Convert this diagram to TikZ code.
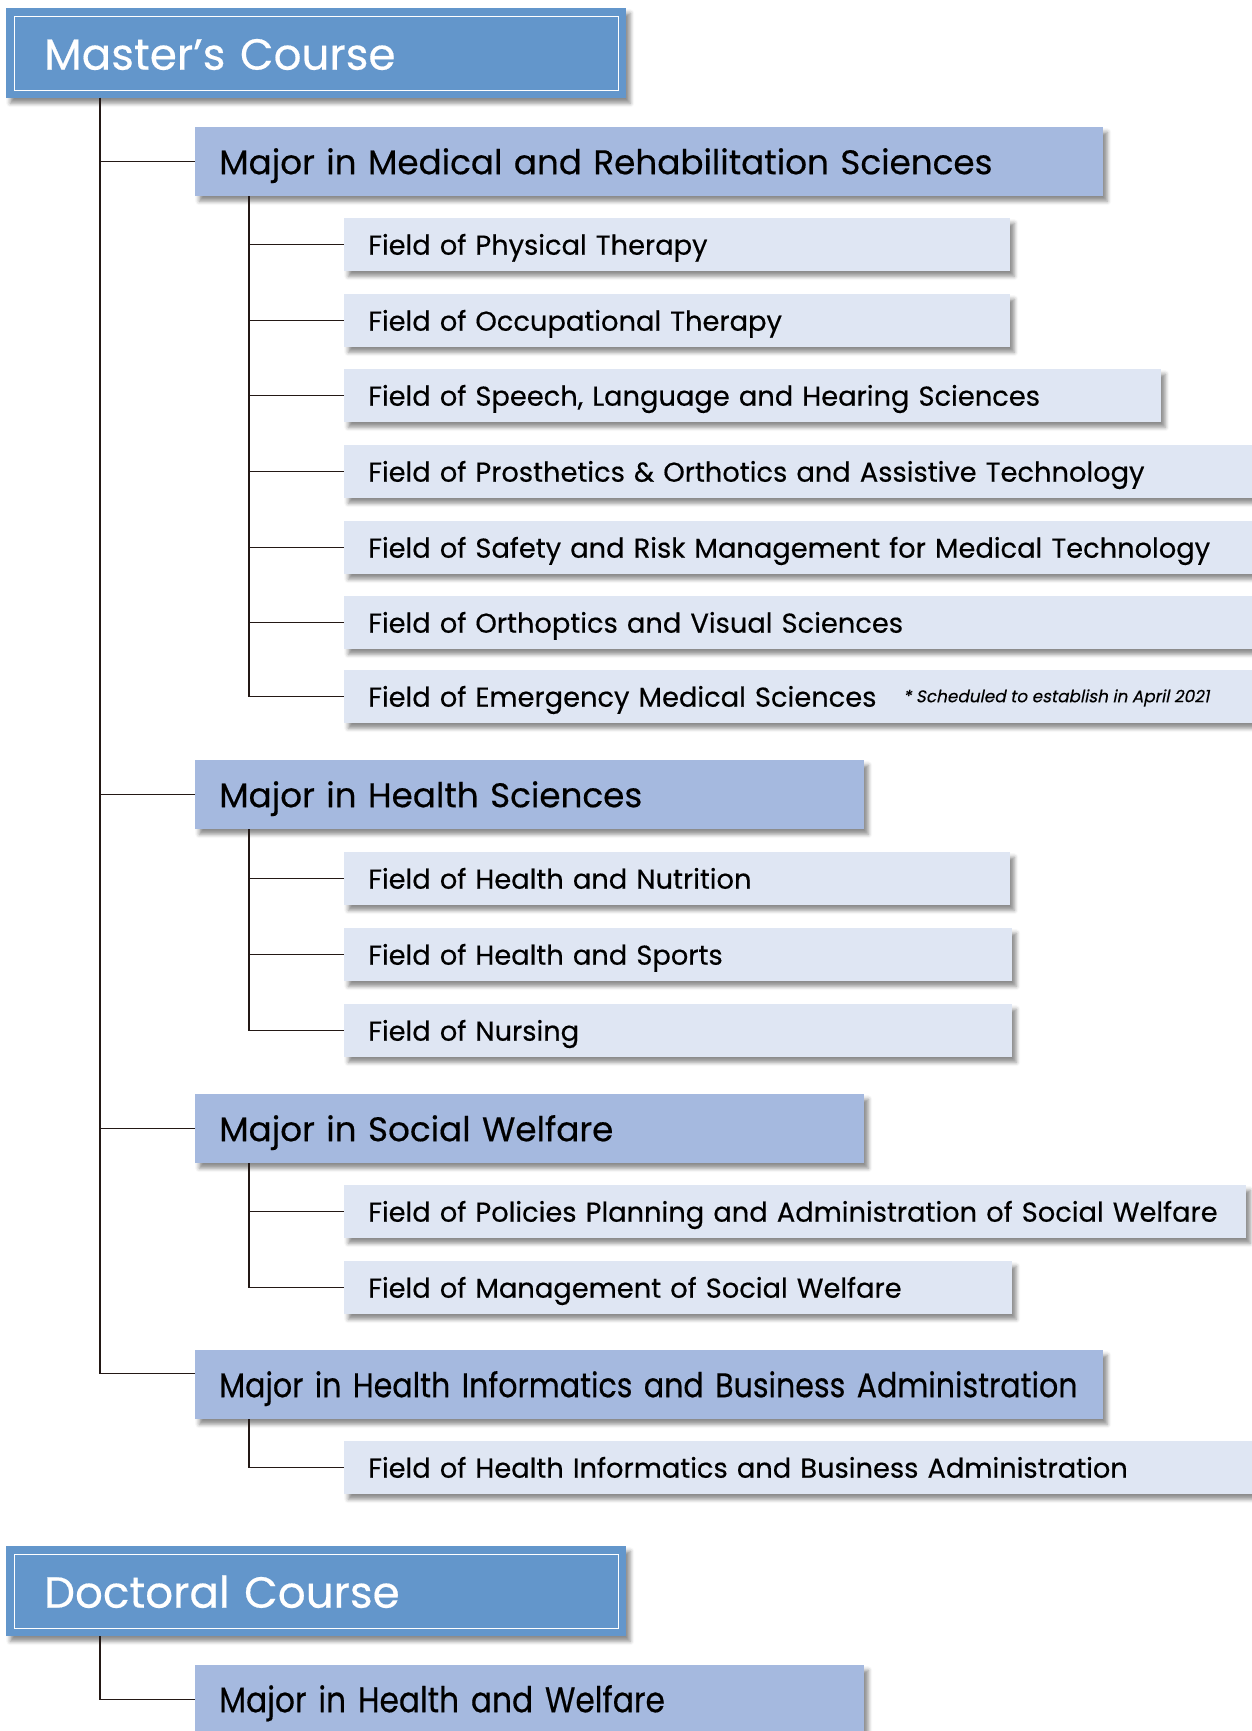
\documentclass[tikz,border=0pt]{standalone}
\usepackage{fontspec}
\setmainfont{Poppins}[FakeBold=0.4]
\newfontfamily\notefont{Poppins}[FakeSlant=0.2,FakeBold=0.3]
\newfontfamily\narrowfont{Poppins}[FakeStretch=0.88,FakeBold=0.4]
\usetikzlibrary{shadows.blur}
\definecolor{coursecol}{HTML}{6396CB}
\definecolor{majorcol}{HTML}{A5B9DF}
\definecolor{fieldcol}{HTML}{DFE6F3}
\definecolor{linecol}{HTML}{231815}

\begin{document}
\begin{tikzpicture}[x=1pt,y=-1pt]
\tikzstyle{shade}=[blur shadow={shadow xshift=4pt,shadow yshift=-5pt,shadow blur radius=4pt,shadow opacity=45}]
\tikzstyle{course}=[rectangle,shade,fill=coursecol,anchor=north west,text=white,minimum height=90pt,inner xsep=38pt,text width=544pt,align=left,text height=33pt,text depth=0pt,font=\fontsize{43.6}{50}\selectfont]
\tikzstyle{major}=[rectangle,shade,fill=majorcol,anchor=north west,minimum height=69pt,inner xsep=24pt,text width=#1,align=left,text height=25pt,text depth=0pt,font=\fontsize{34.2}{38}\selectfont]
\tikzstyle{field}=[rectangle,shade,fill=fieldcol,anchor=north west,minimum height=53pt,inner xsep=24pt,text width=#1,align=left,text height=20pt,text depth=0pt,font=\fontsize{27.3}{30}\selectfont]
\tikzstyle{link}=[draw=linecol,line width=1.3pt]
\useasboundingbox (0,0) rectangle (1252,1731);

% master's course
\node [course] (master) at (6,8) {Master’s Course};
\draw [white,line width=0.8pt] ([shift={(8pt,8pt)}]master.south west) rectangle ([shift={(-8pt,-8pt)}]master.north east);
\coordinate (mtrunk) at (100,98);

\node [major=860pt] (maj1) at (195,127) {Major in Medical and Rehabilitation Sciences};
\node [field=618pt] (f1) at (344,218) {Field of Physical Therapy};
\node [field=618pt] (f2) at (344,294) {Field of Occupational Therapy};
\node [field=769pt] (f3) at (344,369) {Field of Speech, Language and Hearing Sciences};
\node [field=872pt] (f4) at (344,445) {\mbox{Field of Prosthetics \& Orthotics and Assistive Technology}};
\node [field=872pt] (f5) at (344,521) {\mbox{Field of Safety and Risk Management for Medical Technology}};
\node [field=872pt] (f6) at (344,596) {Field of Orthoptics and Visual Sciences};
\node [field=872pt] (f7) at (344,670) {Field of Emergency Medical Sciences};
\node [anchor=west,inner sep=0pt,font=\notefont\fontsize{16.9}{20}\selectfont] (note) at (903,698) {* Scheduled to establish in April 2021};

\node [major=621pt] (maj2) at (195,760) {Major in Health Sciences};
\node [field=618pt] (h1) at (344,852) {Field of Health and Nutrition};
\node [field=620pt] (h2) at (344,928) {Field of Health and Sports};
\node [field=620pt] (h3) at (344,1004) {Field of Nursing};

\node [major=621pt] (maj3) at (195,1094) {Major in Social Welfare};
\node [field=854pt] (s1) at (344,1185) {\mbox{Field of Policies Planning and Administration of Social Welfare}};
\node [field=620pt] (s2) at (344,1261) {Field of Management of Social Welfare};

\node [major=860pt,font=\narrowfont\fontsize{34.2}{38}\selectfont] (maj4) at (195,1350) {\mbox{Major in Health Informatics and Business Administration}};
\node [field=872pt] (i1) at (344,1441) {Field of Health Informatics and Business Administration};

\draw [link] (mtrunk) |- (maj1.west);
\draw [link] (mtrunk) |- (maj2.west);
\draw [link] (mtrunk) |- (maj3.west);
\draw [link] (mtrunk) |- ([yshift=11pt]maj4.west);
\foreach \f in {f1,f2,f3,f4,f5,f6,f7}
  \draw [link] ([xshift=54pt]maj1.south west) |- (\f.west);
\foreach \f in {h1,h2,h3}
  \draw [link] ([xshift=54pt]maj2.south west) |- (\f.west);
\foreach \f in {s1,s2}
  \draw [link] ([xshift=54pt]maj3.south west) |- (\f.west);
\draw [link] ([xshift=54pt]maj4.south west) |- (i1.west);

% doctoral course
\node [course] (doctor) at (6,1546) {Doctoral Course};
\draw [white,line width=0.8pt] ([shift={(8pt,8pt)}]doctor.south west) rectangle ([shift={(-8pt,-8pt)}]doctor.north east);
\coordinate (dtrunk) at (100,1636);
\node [major=621pt,font=\narrowfont\fontsize{35.5}{40}\selectfont] (maj5) at (195,1665) {Major in Health and Welfare};
\draw [link] (dtrunk) |- (maj5.west);
\end{tikzpicture}
\end{document}
